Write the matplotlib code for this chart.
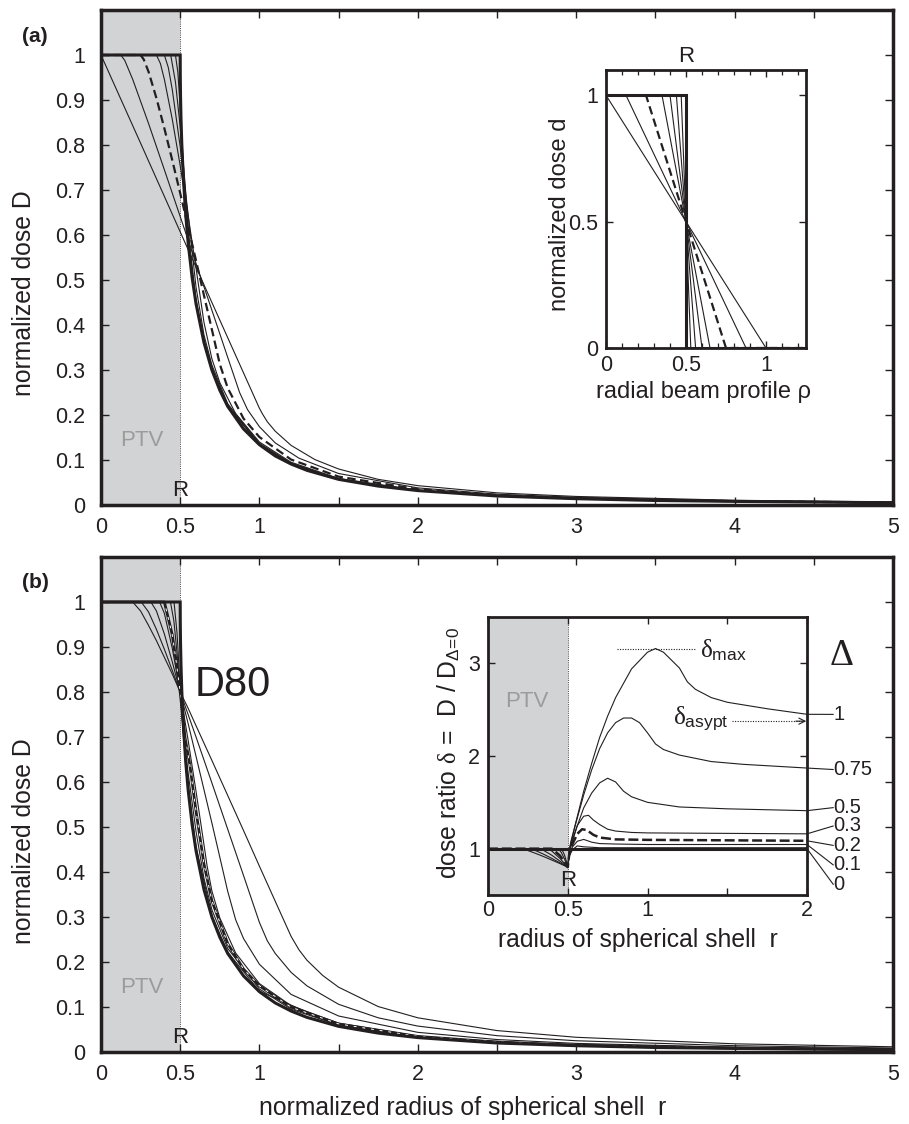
import matplotlib
matplotlib.use('Agg')
import matplotlib.pyplot as plt
from matplotlib.ticker import FixedLocator, FixedFormatter

plt.rcParams['font.family'] = ['Liberation Sans', 'DejaVu Sans']
plt.rcParams['mathtext.fontset'] = 'custom'
plt.rcParams['mathtext.rm'] = 'Liberation Sans'
plt.rcParams['mathtext.sf'] = 'Liberation Sans'
plt.rcParams['mathtext.it'] = 'Liberation Serif'
plt.rcParams['mathtext.bf'] = 'Liberation Sans:bold'

# ======================= DATA =======================
MAIN_XTICKS = [0, 0.5, 1, 1.5, 2, 2.5, 3, 3.5, 4, 4.5, 5]
MAIN_XTICKLABELS = ['0', '0.5', '1', '', '2', '', '3', '', '4', '', '5']
MAIN_YTICKS = [0, 0.1, 0.2, 0.3, 0.4, 0.5, 0.6, 0.7, 0.8, 0.9, 1.0]
MAIN_YTICKLABELS = ['0', '0.1', '0.2', '0.3', '0.4', '0.5', '0.6', '0.7', '0.8', '0.9', '1']

INSA_XTICKS = [0, 0.5, 1]
INSA_XTICKLABELS = ['0', '0.5', '1']
INSA_XMINOR = [0.1, 0.2, 0.3, 0.4, 0.6, 0.7, 0.8, 0.9, 1.1, 1.2]
INSA_YTICKS = [0, 0.5, 1]
INSA_YTICKLABELS = ['0', '0.5', '1']

INSB_XTICKS = [0, 0.5, 1, 1.5, 2]
INSB_XTICKLABELS = ['0', '0.5', '1', '', '2']
INSB_YTICKS = [1, 2, 3]
INSB_YTICKLABELS = ['1', '2', '3']

# ---- inset (a): radial beam profiles (start / end of linear penumbra) ----
PROFILE_DELTA = [0, 0.06, 0.12, 0.2, 0.3, 0.5, 0.75, 1]
PROFILE_START = [0.5, 0.47, 0.44, 0.4, 0.35, 0.25, 0.125, 0.0]
PROFILE_END = [0.5, 0.53, 0.56, 0.6, 0.65, 0.75, 0.875, 1.0]

# ---- step profile (Delta = 0), used in (a) and (b) ----
STEP_R = [0, 0.5, 0.5005, 0.502, 0.505, 0.51, 0.52, 0.535, 0.55, 0.575, 0.6, 0.65, 0.7, 0.75,
          0.8, 0.9, 1.0, 1.1, 1.2, 1.3, 1.5, 1.75, 2, 2.5, 3, 3.5, 4, 5]
STEP_D = [1, 1, 0.955, 0.911, 0.860, 0.803, 0.725, 0.644, 0.583, 0.506, 0.447, 0.361, 0.300, 0.255,
          0.219, 0.169, 0.134, 0.109, 0.091, 0.077, 0.057, 0.042, 0.032, 0.020, 0.014, 0.010, 0.008, 0.005]

# ---- panel (a) dose curves ----
A_R_006 = [0, 0.47, 0.485, 0.5, 0.53, 0.56, 0.6, 0.65, 0.7, 0.8, 1.0, 1.2, 1.5, 2, 2.5, 3, 4, 5]
A_D_006 = [1, 1, 0.962, 0.885, 0.691, 0.561, 0.451, 0.363, 0.301, 0.220, 0.134, 0.091, 0.057, 0.032, 0.020, 0.014, 0.008, 0.005]
A_R_012 = [0, 0.44, 0.47, 0.5, 0.53, 0.56, 0.6, 0.65, 0.7, 0.8, 1.0, 1.2, 1.5, 2, 2.5, 3, 4, 5]
A_D_012 = [1, 1, 0.940, 0.840, 0.717, 0.578, 0.456, 0.367, 0.304, 0.221, 0.135, 0.092, 0.057, 0.032, 0.020, 0.014, 0.008, 0.005]
A_R_02 = [0, 0.4, 0.425, 0.45, 0.5, 0.55, 0.6, 0.65, 0.7, 0.8, 1.0, 1.2, 1.5, 2, 2.5, 3, 4, 5]
A_D_02 = [1, 1, 0.972, 0.923, 0.796, 0.646, 0.484, 0.378, 0.311, 0.225, 0.137, 0.093, 0.058, 0.032, 0.021, 0.014, 0.008, 0.005]
A_R_03 = [0, 0.35, 0.375, 0.4, 0.45, 0.5, 0.55, 0.6, 0.65, 0.7, 0.75, 0.85, 1.0, 1.2, 1.5, 2, 2.5, 3, 4, 5]
A_D_03 = [1, 1, 0.981, 0.946, 0.857, 0.754, 0.643, 0.526, 0.406, 0.325, 0.272, 0.203, 0.140, 0.095, 0.059, 0.033, 0.021, 0.014, 0.008, 0.005]
A_R_05 = [0, 0.25, 0.27, 0.3, 0.35, 0.4, 0.45, 0.5, 0.55, 0.6, 0.65, 0.7, 0.75, 0.8, 0.9, 1.0, 1.2, 1.5, 2, 2.5, 3, 4, 5]
A_D_05 = [1, 1, 0.990, 0.963, 0.904, 0.837, 0.766, 0.693, 0.618, 0.543, 0.466, 0.390, 0.313, 0.260, 0.192, 0.151, 0.101, 0.063, 0.035, 0.022, 0.015, 0.0085, 0.0054]
A_R_075 = [0, 0.125, 0.15, 0.2, 0.3, 0.4, 0.5, 0.6, 0.7, 0.8, 0.875, 0.925, 1.0, 1.1, 1.25, 1.5, 2, 2.5, 3, 4, 5]
A_D_075 = [1, 1, 0.988, 0.946, 0.848, 0.745, 0.641, 0.537, 0.433, 0.328, 0.250, 0.212, 0.174, 0.138, 0.104, 0.070, 0.038, 0.024, 0.017, 0.0094, 0.006]
A_R_1 = [0, 0.25, 0.5, 0.75, 1.0, 1.02, 1.05, 1.1, 1.2, 1.35, 1.5, 1.75, 2, 2.5, 3, 4, 5]
A_D_1 = [1, 0.804, 0.607, 0.411, 0.215, 0.202, 0.185, 0.164, 0.1325, 0.101, 0.080, 0.057, 0.043, 0.027, 0.019, 0.0105, 0.0067]

# ---- panel (b) dose curves (D80 normalisation) ----
B_R_005 = [0, 0.461, 0.48, 0.49, 0.5, 0.52, 0.55, 0.6, 0.7, 0.8, 1.0, 1.5, 2, 3, 5]
B_D_005 = [1, 1, 0.931, 0.871, 0.80, 0.70, 0.595, 0.456, 0.303, 0.222, 0.135, 0.058, 0.032, 0.014, 0.005]
B_R_01 = [0, 0.4385, 0.46, 0.48, 0.5, 0.52, 0.55, 0.6, 0.65, 0.7, 0.8, 1.0, 1.2, 1.5, 2, 3, 5]
B_D_01 = [1, 1, 0.958, 0.887, 0.80, 0.71, 0.62, 0.49, 0.386, 0.316, 0.230, 0.140, 0.095, 0.060, 0.033, 0.0146, 0.0052]
B_R_02 = [0, 0.40, 0.45, 0.475, 0.5, 0.53, 0.56, 0.6, 0.65, 0.7, 0.8, 0.9, 1.0, 1.2, 1.5, 2, 2.5, 3, 4, 5]
B_D_02 = [1, 1, 0.927, 0.867, 0.80, 0.70, 0.64, 0.535, 0.418, 0.336, 0.241, 0.184, 0.147, 0.0995, 0.0624, 0.0346, 0.022, 0.0152, 0.0085, 0.0054]
B_R_03 = [0, 0.37, 0.4, 0.45, 0.5, 0.55, 0.6, 0.65, 0.67, 0.7, 0.75, 0.85, 1.0, 1.2, 1.5, 2, 2.5, 3, 4, 5]
B_D_03 = [1, 1, 0.975, 0.897, 0.80, 0.693, 0.579, 0.461, 0.413, 0.358, 0.298, 0.220, 0.152, 0.103, 0.064, 0.0354, 0.0225, 0.0156, 0.0087, 0.0056]
B_R_05 = [0, 0.315, 0.35, 0.4, 0.45, 0.5, 0.55, 0.6, 0.7, 0.75, 0.8, 0.85, 0.9, 1.0, 1.2, 1.5, 2, 2.5, 3, 4, 5]
B_D_05 = [1, 1, 0.980, 0.929, 0.867, 0.80, 0.730, 0.657, 0.509, 0.433, 0.357, 0.294, 0.252, 0.195, 0.128, 0.080, 0.0437, 0.0277, 0.0191, 0.0107, 0.0068]
B_R_075 = [0, 0.254, 0.3, 0.35, 0.4, 0.45, 0.5, 0.55, 0.6, 0.7, 0.8, 0.9, 1.0, 1.05, 1.1, 1.2, 1.3, 1.5, 1.75, 2, 2.5, 3, 4, 5]
B_D_075 = [1, 1, 0.978, 0.939, 0.895, 0.848, 0.80, 0.750, 0.700, 0.598, 0.495, 0.392, 0.288, 0.247, 0.219, 0.177, 0.147, 0.106, 0.076, 0.0576, 0.0363, 0.025, 0.014, 0.0089]
B_R_1 = [0, 0.2, 0.25, 0.3, 0.35, 0.4, 0.45, 0.5, 0.55, 0.6, 0.7, 0.8, 0.9, 1.0, 1.1, 1.2, 1.25, 1.3, 1.4, 1.5, 1.75, 2, 2.5, 3, 4, 5]
B_D_1 = [1, 1, 0.980, 0.948, 0.914, 0.877, 0.840, 0.80, 0.764, 0.725, 0.648, 0.570, 0.492, 0.413, 0.335, 0.257, 0.227, 0.204, 0.170, 0.144, 0.101, 0.076, 0.0476, 0.0327, 0.0182, 0.0116]

# ---- inset (b): dose ratio delta = D / D_{Delta=0} ----
IB_R_0 = [0, 2]
IB_V_0 = [1, 1]
IB_R_005 = [0, 0.461, 0.48, 0.49, 0.5, 0.51, 0.53, 0.56, 0.6, 0.7, 2.0]
IB_V_005 = [1, 1, 0.931, 0.871, 0.8, 0.92, 0.99, 1.03, 1.02, 1.01, 1.01]
IB_R_01 = [0, 0.44, 0.46, 0.48, 0.5, 0.51, 0.53, 0.56, 0.6, 0.65, 0.7, 0.8, 1.0, 2.0]
IB_V_01 = [1, 1, 0.958, 0.887, 0.8, 0.93, 1.02, 1.08, 1.1, 1.07, 1.055, 1.05, 1.045, 1.045]
IB_R_02 = [0, 0.40, 0.45, 0.475, 0.5, 0.51, 0.53, 0.56, 0.59, 0.62, 0.66, 0.7, 0.8, 1.0, 1.5, 2.0]
IB_V_02 = [1, 1, 0.927, 0.867, 0.8, 0.95, 1.05, 1.16, 1.21, 1.2, 1.15, 1.12, 1.1, 1.095, 1.09, 1.085]
IB_R_03 = [0, 0.37, 0.4, 0.45, 0.5, 0.51, 0.53, 0.56, 0.6, 0.63, 0.66, 0.7, 0.75, 0.8, 0.9, 1.0, 1.5, 2.0]
IB_V_03 = [1, 1, 0.975, 0.897, 0.8, 0.96, 1.08, 1.25, 1.35, 1.36, 1.31, 1.26, 1.21, 1.19, 1.175, 1.17, 1.165, 1.16]
IB_R_05 = [0, 0.315, 0.35, 0.4, 0.45, 0.5, 0.51, 0.52, 0.55, 0.6, 0.65, 0.7, 0.75, 0.8, 0.85, 0.9, 1.0, 1.2, 1.5, 2.0]
IB_V_05 = [1, 1, 0.98, 0.929, 0.867, 0.8, 0.975, 1.05, 1.2, 1.44, 1.6, 1.71, 1.76, 1.72, 1.62, 1.56, 1.5, 1.45, 1.43, 1.41]
IB_R_075 = [0, 0.254, 0.3, 0.35, 0.4, 0.45, 0.5, 0.51, 0.52, 0.55, 0.6, 0.65, 0.7, 0.75, 0.8, 0.85, 0.9, 0.95, 1.0, 1.05, 1.1, 1.2, 1.4, 1.6, 2.0]
IB_V_075 = [1, 1, 0.978, 0.939, 0.895, 0.848, 0.8, 0.98, 1.06, 1.27, 1.58, 1.85, 2.08, 2.25, 2.36, 2.41, 2.41, 2.36, 2.25, 2.13, 2.07, 2.01, 1.94, 1.91, 1.87]
IB_R_1 = [0, 0.2, 0.25, 0.3, 0.35, 0.4, 0.45, 0.5, 0.51, 0.52, 0.55, 0.6, 0.65, 0.7, 0.75, 0.8, 0.9, 1.0, 1.05, 1.1, 1.2, 1.25, 1.3, 1.4, 1.5, 1.75, 2.0]
IB_V_1 = [1, 1, 0.98, 0.948, 0.914, 0.877, 0.84, 0.8, 0.99, 1.08, 1.28, 1.62, 1.92, 2.2, 2.43, 2.63, 2.94, 3.12, 3.16, 3.12, 2.95, 2.8, 2.72, 2.63, 2.58, 2.51, 2.45]

IB_LABELS = ['1', '0.75', '0.5', '0.3', '0.2', '0.1', '0']
IB_LABEL_Y = [2.449, 1.854, 1.443, 1.245, 1.035, 0.824, 0.614]

# ======================= STYLE / LAYOUT =======================
W, H = 909, 1124
GREY = '#d1d3d4'
PTV_GREY = '#9c9c9c'
INK = '#231f20'
TICK_FS = 15.5
LABEL_FS = 17.8
DLABEL_FS = 14.5


def rect(x0, y0, x1, y1):
    return [x0 / W, 1 - y1 / H, (x1 - x0) / W, (y1 - y0) / H]


def ftext(px, py, s, **kw):
    return fig.text(px / W, 1 - py / H, s, **kw)


def setup(ax, xt, xl, yt, yl, length, xpad, ypad, spine_lw, size=TICK_FS):
    ax.xaxis.set_major_locator(FixedLocator(xt))
    ax.xaxis.set_major_formatter(FixedFormatter(xl))
    ax.yaxis.set_major_locator(FixedLocator(yt))
    ax.yaxis.set_major_formatter(FixedFormatter(yl))
    ax.tick_params(which='both', direction='in', top=True, right=True, width=1.0,
                   labelsize=size, color=INK, labelcolor=INK)
    ax.tick_params(which='major', length=length)
    ax.tick_params(axis='x', pad=xpad)
    ax.tick_params(axis='y', pad=ypad)
    for s in ax.spines.values():
        s.set_linewidth(spine_lw)
        s.set_color(INK)
        s.set_zorder(5)


fig = plt.figure(figsize=(W / 100, H / 100), dpi=100)

axA = fig.add_axes(rect(101, 10, 893, 505))
axB = fig.add_axes(rect(101, 557, 893, 1052))
insA = fig.add_axes(rect(606, 70, 806, 348))
insB = fig.add_axes(rect(488, 617, 807, 895))

THIN = dict(color=INK, lw=0.8, solid_joinstyle='round', zorder=3)
THICK = dict(color=INK, lw=2.2, solid_joinstyle='miter', zorder=4)

# ---------------- main panels common ----------------
for ax, ylab_y in ((axA, 0.427), (axB, 0.425)):
    ax.set_xlim(0, 5)
    ax.set_ylim(0, 1.1)
    ax.axvspan(0, 0.5, color=GREY, lw=0, zorder=0)
    ax.axvline(0.5, color=INK, lw=0.6, ls=(0, (1, 1.2)), zorder=1)
    setup(ax, MAIN_XTICKS, MAIN_XTICKLABELS, MAIN_YTICKS, MAIN_YTICKLABELS,
          length=6, xpad=8.5, ypad=11.5, spine_lw=2.5)
    ax.set_ylabel('normalized dose D', fontsize=LABEL_FS, color=INK, va='center')
    ax.yaxis.set_label_coords(-0.0966, ylab_y)
    ax.text(0.257, 0.143, 'PTV', fontsize=16, color=PTV_GREY, ha='center', va='center', zorder=2)
    ax.text(0.5, 0.033, 'R', fontsize=16, color=INK, ha='center', va='center', zorder=6)

# ---------------- panel (a) ----------------
a_curves = [(A_R_006, A_D_006), (A_R_012, A_D_012), (A_R_02, A_D_02), (A_R_03, A_D_03),
            (A_R_075, A_D_075), (A_R_1, A_D_1)]
for r, d in a_curves:
    axA.plot(r, d, **THIN)
axA.plot(A_R_05, A_D_05, color=INK, lw=1.6, dashes=(3.8, 2.0), zorder=3)
axA.plot(STEP_R, STEP_D, **THICK)

# ---------------- panel (b) ----------------
b_curves = [(B_R_005, B_D_005), (B_R_01, B_D_01), (B_R_03, B_D_03), (B_R_05, B_D_05),
            (B_R_075, B_D_075), (B_R_1, B_D_1)]
for r, d in b_curves:
    axB.plot(r, d, **THIN)
axB.plot(B_R_02, B_D_02, color=INK, lw=2.0, zorder=3)
axB.plot(B_R_02, B_D_02, color='white', lw=0.7, dashes=(3, 6), zorder=3.5)
axB.plot(STEP_R, STEP_D, **THICK)
axB.text(0.593, 0.816, 'D80', fontsize=30, color=INK, ha='left', va='center', zorder=6)
axB.set_xlabel('normalized radius of spherical shell  r', fontsize=LABEL_FS, color=INK, va='center')
axB.xaxis.set_label_coords(0.456, -0.113)

ftext(35, 37, '(a)', fontsize=15, fontweight='bold', color=INK, ha='center', va='center')
ftext(35, 582, '(b)', fontsize=15, fontweight='bold', color=INK, ha='center', va='center')

# ---------------- inset (a) ----------------
insA.set_xlim(0, 1.25)
insA.set_ylim(0, 1.1)
setup(insA, INSA_XTICKS, INSA_XTICKLABELS, INSA_YTICKS, INSA_YTICKLABELS,
      length=5, xpad=5, ypad=5.5, spine_lw=2.0)
insA.xaxis.set_minor_locator(FixedLocator(INSA_XMINOR))
insA.tick_params(which='minor', length=3.5, width=0.9)
for dlt, s, e in zip(PROFILE_DELTA, PROFILE_START, PROFILE_END):
    xs = [0, s, e, 1.25]
    ys = [1, 1, 0, 0]
    if dlt == 0:
        insA.plot(xs, ys, **THICK)
    elif dlt == 0.5:
        insA.plot(xs, ys, color=INK, lw=1.6, dashes=(3.8, 2.0), zorder=3)
    else:
        insA.plot(xs, ys, **THIN)
insA.text(0.5, 1.155, 'R', fontsize=16, color=INK, ha='center', va='center', clip_on=False)
insA.set_ylabel('normalized dose d', fontsize=17, color=INK, va='center')
insA.yaxis.set_label_coords(-0.23, 0.48)
insA.set_xlabel('radial beam profile ρ', fontsize=17, color=INK, va='center')
insA.xaxis.set_label_coords(0.485, -0.158)

# ---------------- inset (b) ----------------
insB.set_xlim(0, 2)
insB.set_ylim(0.5, 3.5)
insB.axvspan(0, 0.5, color=GREY, lw=0, zorder=0)
insB.axvline(0.5, color=INK, lw=0.6, ls=(0, (1, 1.2)), zorder=1)
setup(insB, INSB_XTICKS, INSB_XTICKLABELS, INSB_YTICKS, INSB_YTICKLABELS,
      length=5, xpad=3.5, ypad=5.5, spine_lw=2.0)
ib_thin = [(IB_R_005, IB_V_005), (IB_R_01, IB_V_01), (IB_R_03, IB_V_03), (IB_R_05, IB_V_05),
           (IB_R_075, IB_V_075), (IB_R_1, IB_V_1)]
for r, v in ib_thin:
    insB.plot(r, v, **THIN)
insB.plot(IB_R_02, IB_V_02, color=INK, lw=1.8, dashes=(4, 1.5), zorder=3)
insB.plot(IB_R_0, IB_V_0, **THICK)
insB.text(0.245, 2.59, 'PTV', fontsize=16, color=PTV_GREY, ha='center', va='center')
insB.text(0.5, 0.66, 'R', fontsize=16, color=INK, ha='center', va='center')

# delta_max marker
dmax = max(IB_V_1)
insB.plot([0.81, 1.30], [dmax, dmax], color=INK, lw=0.8, ls=(0, (1, 1.3)), zorder=2)
insB.text(1.33, dmax - 0.02, r'$\delta_{\mathrm{max}}$', fontsize=18, color=INK, ha='left', va='center')
# delta_asympt marker
yas = 2.376
insB.plot([1.53, 1.97], [yas, yas], color=INK, lw=0.8, ls=(0, (1, 1.3)), zorder=2)
insB.annotate('', xy=(1.995, yas), xytext=(1.93, yas),
              arrowprops=dict(arrowstyle='->', lw=0.8, color=INK, mutation_scale=11,
                              shrinkA=0, shrinkB=0))
insB.text(1.51, yas + 0.02, r'$\delta_{\mathrm{asypt}}$', fontsize=18, color=INK, ha='right', va='center')

# Delta value labels
ib_ends = [IB_V_1[-1], IB_V_075[-1], IB_V_05[-1], IB_V_03[-1], IB_V_02[-1], IB_V_01[-1], IB_V_0[-1]]
for lab, ly, ye in zip(IB_LABELS, IB_LABEL_Y, ib_ends):
    insB.annotate(lab, xy=(2.0, ye), xytext=(2.165, ly), textcoords='data',
                  fontsize=DLABEL_FS, color=INK, ha='left', va='center', annotation_clip=False,
                  arrowprops=dict(arrowstyle='-', lw=0.8, color=INK, shrinkA=0, shrinkB=0,
                                  relpos=(0, 0.5), patchA=None))

insB.set_ylabel(r'dose ratio $\delta$ =  D / D$_{\Delta\!=\!0}$', fontsize=LABEL_FS, color=INK, va='center')
insB.yaxis.set_label_coords(-0.124, 0.51)
insB.set_xlabel('radius of spherical shell  r', fontsize=LABEL_FS, color=INK, va='center')
insB.xaxis.set_label_coords(0.47, -0.162)

ftext(842, 656, 'Δ', fontsize=27, color=INK, ha='center', va='center', family='Liberation Serif')

fig.savefig('out.png', dpi=100)
